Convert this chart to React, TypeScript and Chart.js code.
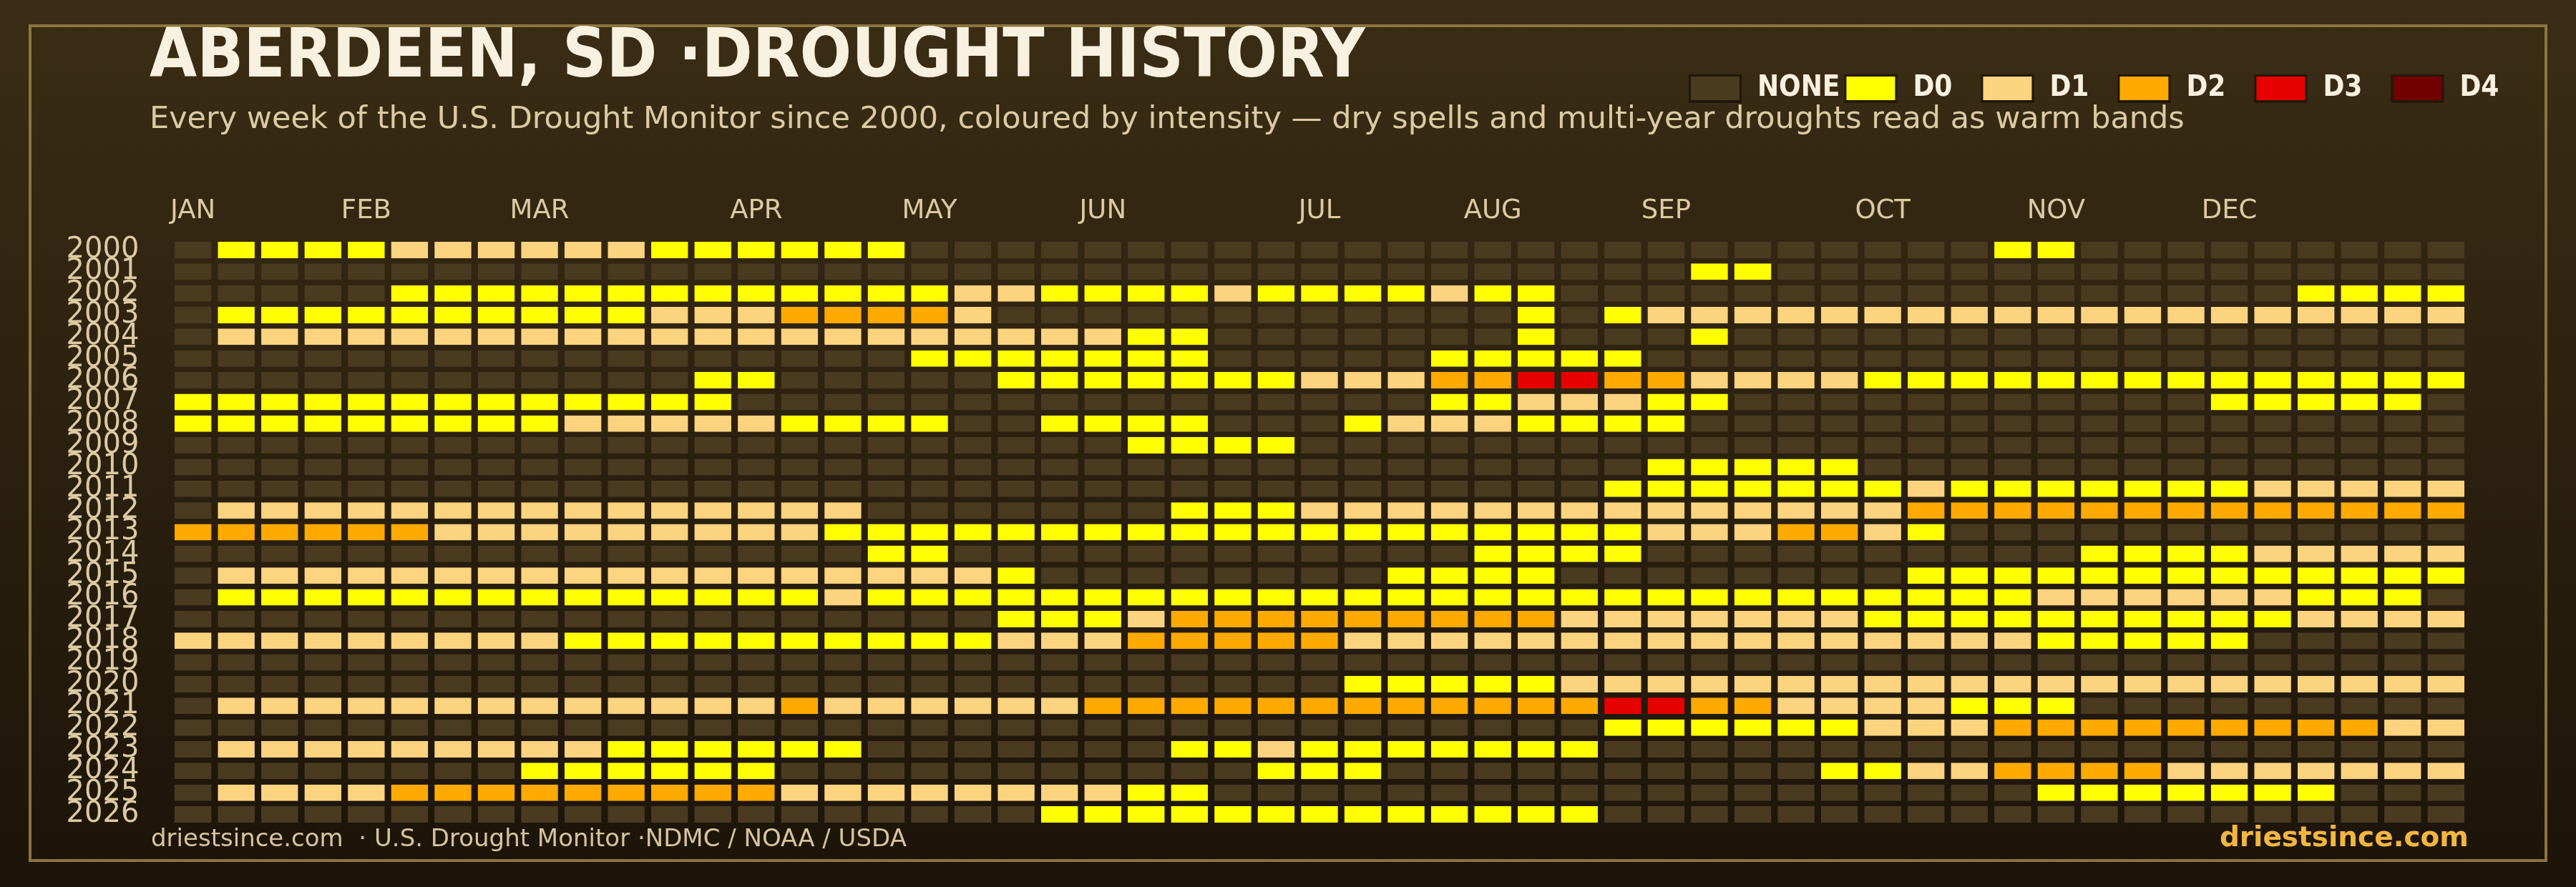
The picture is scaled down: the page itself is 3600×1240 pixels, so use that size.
import React, { useEffect, useRef } from 'react';
import { Chart, registerables } from 'chart.js';

Chart.register(...registerables);

// ---------- DATA ----------
const YEARS = ['2000', '2001', '2002', '2003', '2004', '2005', '2006', '2007', '2008', '2009', '2010', '2011', '2012', '2013', '2014', '2015', '2016', '2017', '2018', '2019', '2020', '2021', '2022', '2023', '2024', '2025', '2026'];
const MONTHS = ['JAN', 'FEB', 'MAR', 'APR', 'MAY', 'JUN', 'JUL', 'AUG', 'SEP', 'OCT', 'NOV', 'DEC'];
const MONTH_START_WEEK = [0, 4, 8, 13, 17, 21, 26, 30, 34, 39, 43, 47];
const WEEK_COUNT = 53;
const LEVELS = ['NONE', 'D0', 'D1', 'D2', 'D3', 'D4'];
const LEVEL_COLORS = ['#4a3a20', '#ffff00', '#fcd37f', '#ffaa00', '#e60000', '#730000'];

// weekly drought category per year (0 = none, 1 = D0 ... 5 = D4)
const W2000 = [0,1,1,1,1,2,2,2,2,2,2,1,1,1,1,1,1,0,0,0,0,0,0,0,0,0,0,0,0,0,0,0,0,0,0,0,0,0,0,0,0,0,1,1,0,0,0,0,0,0,0,0,0];
const W2001 = [0,0,0,0,0,0,0,0,0,0,0,0,0,0,0,0,0,0,0,0,0,0,0,0,0,0,0,0,0,0,0,0,0,0,0,1,1,0,0,0,0,0,0,0,0,0,0,0,0,0,0,0,0];
const W2002 = [0,0,0,0,0,1,1,1,1,1,1,1,1,1,1,1,1,1,2,2,1,1,1,1,2,1,1,1,1,2,1,1,0,0,0,0,0,0,0,0,0,0,0,0,0,0,0,0,0,1,1,1,1];
const W2003 = [0,1,1,1,1,1,1,1,1,1,1,2,2,2,3,3,3,3,2,0,0,0,0,0,0,0,0,0,0,0,0,1,0,1,2,2,2,2,2,2,2,2,2,2,2,2,2,2,2,2,2,2,2];
const W2004 = [0,2,2,2,2,2,2,2,2,2,2,2,2,2,2,2,2,2,2,2,2,2,1,1,0,0,0,0,0,0,0,1,0,0,0,1,0,0,0,0,0,0,0,0,0,0,0,0,0,0,0,0,0];
const W2005 = [0,0,0,0,0,0,0,0,0,0,0,0,0,0,0,0,0,1,1,1,1,1,1,1,0,0,0,0,0,1,1,1,1,1,0,0,0,0,0,0,0,0,0,0,0,0,0,0,0,0,0,0,0];
const W2006 = [0,0,0,0,0,0,0,0,0,0,0,0,1,1,0,0,0,0,0,1,1,1,1,1,1,1,2,2,2,3,3,4,4,3,3,2,2,2,2,1,1,1,1,1,1,1,1,1,1,1,1,1,1];
const W2007 = [1,1,1,1,1,1,1,1,1,1,1,1,1,0,0,0,0,0,0,0,0,0,0,0,0,0,0,0,0,1,1,2,2,2,1,1,0,0,0,0,0,0,0,0,0,0,0,1,1,1,1,1,0];
const W2008 = [1,1,1,1,1,1,1,1,1,2,2,2,2,2,1,1,1,1,0,0,1,1,1,1,0,0,0,1,2,2,2,1,1,1,1,0,0,0,0,0,0,0,0,0,0,0,0,0,0,0,0,0,0];
const W2009 = [0,0,0,0,0,0,0,0,0,0,0,0,0,0,0,0,0,0,0,0,0,0,1,1,1,1,0,0,0,0,0,0,0,0,0,0,0,0,0,0,0,0,0,0,0,0,0,0,0,0,0,0,0];
const W2010 = [0,0,0,0,0,0,0,0,0,0,0,0,0,0,0,0,0,0,0,0,0,0,0,0,0,0,0,0,0,0,0,0,0,0,1,1,1,1,1,0,0,0,0,0,0,0,0,0,0,0,0,0,0];
const W2011 = [0,0,0,0,0,0,0,0,0,0,0,0,0,0,0,0,0,0,0,0,0,0,0,0,0,0,0,0,0,0,0,0,0,1,1,1,1,1,1,1,2,1,1,1,1,1,1,1,2,2,2,2,2];
const W2012 = [0,2,2,2,2,2,2,2,2,2,2,2,2,2,2,2,0,0,0,0,0,0,0,1,1,1,2,2,2,2,2,2,2,2,2,2,2,2,2,2,3,3,3,3,3,3,3,3,3,3,3,3,3];
const W2013 = [3,3,3,3,3,3,2,2,2,2,2,2,2,2,2,1,1,1,1,1,1,1,1,1,1,1,1,1,1,1,1,1,1,1,2,2,2,3,3,2,1,0,0,0,0,0,0,0,0,0,0,0,0];
const W2014 = [0,0,0,0,0,0,0,0,0,0,0,0,0,0,0,0,1,1,0,0,0,0,0,0,0,0,0,0,0,0,1,1,1,1,0,0,0,0,0,0,0,0,0,0,1,1,1,1,2,2,2,2,2];
const W2015 = [0,2,2,2,2,2,2,2,2,2,2,2,2,2,2,2,2,2,2,1,0,0,0,0,0,0,0,0,1,1,1,1,0,0,0,0,0,0,0,0,1,1,1,1,1,1,1,1,1,1,1,1,1];
const W2016 = [0,1,1,1,1,1,1,1,1,1,1,1,1,1,1,2,1,1,1,1,1,1,1,1,1,1,1,1,1,1,1,1,1,1,1,1,1,1,1,1,1,1,1,2,2,2,2,2,2,1,1,1,0];
const W2017 = [0,0,0,0,0,0,0,0,0,0,0,0,0,0,0,0,0,0,0,1,1,1,2,3,3,3,3,3,3,3,3,3,2,2,2,2,2,2,2,1,1,1,1,1,1,1,1,1,1,2,2,2,2];
const W2018 = [2,2,2,2,2,2,2,2,2,1,1,1,1,1,1,1,1,1,1,2,2,2,3,3,3,3,3,2,2,2,2,2,2,2,2,2,2,2,2,2,2,2,2,1,1,1,1,1,0,0,0,0,0];
const W2019 = [0,0,0,0,0,0,0,0,0,0,0,0,0,0,0,0,0,0,0,0,0,0,0,0,0,0,0,0,0,0,0,0,0,0,0,0,0,0,0,0,0,0,0,0,0,0,0,0,0,0,0,0,0];
const W2020 = [0,0,0,0,0,0,0,0,0,0,0,0,0,0,0,0,0,0,0,0,0,0,0,0,0,0,0,1,1,1,1,1,2,2,2,2,2,2,2,2,2,2,2,2,2,2,2,2,2,2,2,2,2];
const W2021 = [0,2,2,2,2,2,2,2,2,2,2,2,2,2,3,2,2,2,2,2,2,3,3,3,3,3,3,3,3,3,3,3,3,4,4,3,3,2,2,2,2,1,1,1,0,0,0,0,0,0,0,0,0];
const W2022 = [0,0,0,0,0,0,0,0,0,0,0,0,0,0,0,0,0,0,0,0,0,0,0,0,0,0,0,0,0,0,0,0,0,1,1,1,1,1,1,2,2,2,3,3,3,3,3,3,3,3,3,2,2];
const W2023 = [0,2,2,2,2,2,2,2,2,2,1,1,1,1,1,1,0,0,0,0,0,0,0,1,1,2,1,1,1,1,1,1,1,0,0,0,0,0,0,0,0,0,0,0,0,0,0,0,0,0,0,0,0];
const W2024 = [0,0,0,0,0,0,0,0,1,1,1,1,1,1,0,0,0,0,0,0,0,0,0,0,0,1,1,1,0,0,0,0,0,0,0,0,0,0,1,1,2,2,3,3,3,3,2,2,2,2,2,2,2];
const W2025 = [0,2,2,2,2,3,3,3,3,3,3,3,3,3,2,2,2,2,2,2,2,2,1,1,0,0,0,0,0,0,0,0,0,0,0,0,0,0,0,0,0,0,0,1,1,1,1,1,1,1,0,0,0];
const W2026 = [0,0,0,0,0,0,0,0,0,0,0,0,0,0,0,0,0,0,0,0,1,1,1,1,1,1,1,1,1,1,1,1,1,0,0,0,0,0,0,0,0,0,0,0,0,0,0,0,0,0,0,0,0];

const WEEKLY = [W2000, W2001, W2002, W2003, W2004, W2005, W2006, W2007, W2008, W2009, W2010, W2011, W2012, W2013, W2014, W2015, W2016, W2017, W2018, W2019, W2020, W2021, W2022, W2023, W2024, W2025, W2026];

const TITLE = 'ABERDEEN, SD \u00B7DROUGHT HISTORY';
const SUBTITLE = 'Every week of the U.S. Drought Monitor since 2000, coloured by intensity \u2014 dry spells and multi-year droughts read as warm bands';
const FOOTER_LEFT = 'driestsince.com  \u00B7 U.S. Drought Monitor \u00B7NDMC / NOAA / USDA';
const FOOTER_RIGHT = 'driestsince.com';

// ---------- STYLE ----------
const W = 3600;
const H = 1240;
const CREAM = '#f9f1df';
const TAN = '#dccaa2';
const SANS = '"DejaVu Sans"';
const COND = '"DejaVu Sans Condensed", "DejaVu Sans"';

const decorPlugin = {
  id: 'decor',
  beforeDraw(chart: any) {
    const { ctx, width, height } = chart;
    ctx.save();
    const g = ctx.createLinearGradient(0, 0, 0, height);
    g.addColorStop(0, '#3b2d15');
    g.addColorStop(1, '#1c1409');
    ctx.fillStyle = g;
    ctx.fillRect(0, 0, width, height);
    ctx.strokeStyle = '#8c7440';
    ctx.lineWidth = 4;
    ctx.strokeRect(42, 36, width - 84, height - 73);
    ctx.restore();
  },
  afterDraw(chart: any) {
    const { ctx } = chart;
    ctx.save();
    ctx.textBaseline = 'alphabetic';
    ctx.textAlign = 'left';
    // title
    ctx.fillStyle = CREAM;
    ctx.font = `bold 95px ${COND}`;
    ctx.fillText(TITLE, 209, 107);
    // subtitle
    ctx.fillStyle = TAN;
    ctx.font = `43px ${SANS}`;
    ctx.fillText(SUBTITLE, 209, 179);
    // legend
    ctx.font = `bold 40px ${COND}`;
    let x = 2360;
    const boxW = 74;
    const boxH = 40;
    const by = 104;
    LEVELS.forEach((name, i) => {
      ctx.fillStyle = '#21180b';
      ctx.fillRect(x, by, boxW, boxH);
      ctx.fillStyle = LEVEL_COLORS[i];
      ctx.fillRect(x + 3, by + 3, boxW - 6, boxH - 7);
      ctx.fillStyle = CREAM;
      ctx.fillText(name, x + boxW + 22, by + 30);
      const tw = ctx.measureText(name).width;
      x += boxW + 22 + Math.max(tw, 89) + 6;
    });
    // footer
    ctx.fillStyle = '#d6c49e';
    ctx.font = `34px ${SANS}`;
    ctx.fillText(FOOTER_LEFT, 211, 1183);
    ctx.fillStyle = '#f2b640';
    ctx.font = `bold 39px ${SANS}`;
    ctx.textAlign = 'right';
    ctx.fillText(FOOTER_RIGHT, 3450, 1183);
    ctx.restore();
  },
};

export default function App() {
  const canvasRef = useRef<HTMLCanvasElement | null>(null);

  useEffect(() => {
    document.body.style.margin = '0';
    document.body.style.background = '#1c1409';
    const canvas = canvasRef.current;
    if (!canvas) return;

    const datasets = Array.from({ length: WEEK_COUNT }, (_, w) => ({
      label: `week ${w + 1}`,
      data: YEARS.map(() => [w, w + 1]),
      backgroundColor: WEEKLY.map((row) => LEVEL_COLORS[row[w]]),
      borderColor: 'rgba(0,0,0,0)',
      borderWidth: { top: 0, bottom: 0, left: 4.6, right: 4.6 },
      borderSkipped: false,
      grouped: false,
      barPercentage: 0.758,
      categoryPercentage: 1,
    }));

    const chart = new Chart(canvas, {
      type: 'bar',
      data: { labels: YEARS, datasets: datasets as any },
      plugins: [decorPlugin],
      options: {
        indexAxis: 'y',
        responsive: false,
        animation: false,
        events: [],
        layout: { padding: { left: 0, top: 0, right: 151.4, bottom: 86.3 } },
        plugins: {
          legend: { display: false },
          tooltip: { enabled: false },
          title: { display: false },
        },
        scales: {
          x: {
            type: 'linear',
            position: 'top',
            min: 0,
            max: WEEK_COUNT,
            grid: { display: false, drawTicks: false },
            border: { display: false },
            afterFit: (scale: any) => {
              scale.height = 334.3;
            },
            afterBuildTicks: (scale: any) => {
              scale.ticks = MONTH_START_WEEK.map((w) => ({ value: w + 0.5 }));
            },
            ticks: {
              autoSkip: false,
              maxRotation: 0,
              minRotation: 0,
              padding: 17,
              color: TAN,
              font: { family: SANS, size: 37 },
              callback: (_v: any, i: number) => MONTHS[i],
            },
          },
          y: {
            type: 'category',
            grid: { display: false, drawTicks: false },
            border: { display: false },
            afterFit: (scale: any) => {
              scale.width = 239.4;
            },
            ticks: {
              autoSkip: false,
              padding: 45,
              color: TAN,
              font: { family: SANS, size: 40 },
            },
          },
        },
      } as any,
    });

    return () => chart.destroy();
  }, []);

  return (
    <div style={{ width: W, height: H }}>
      <canvas ref={canvasRef} width={W} height={H} style={{ display: 'block' }} />
    </div>
  );
}
